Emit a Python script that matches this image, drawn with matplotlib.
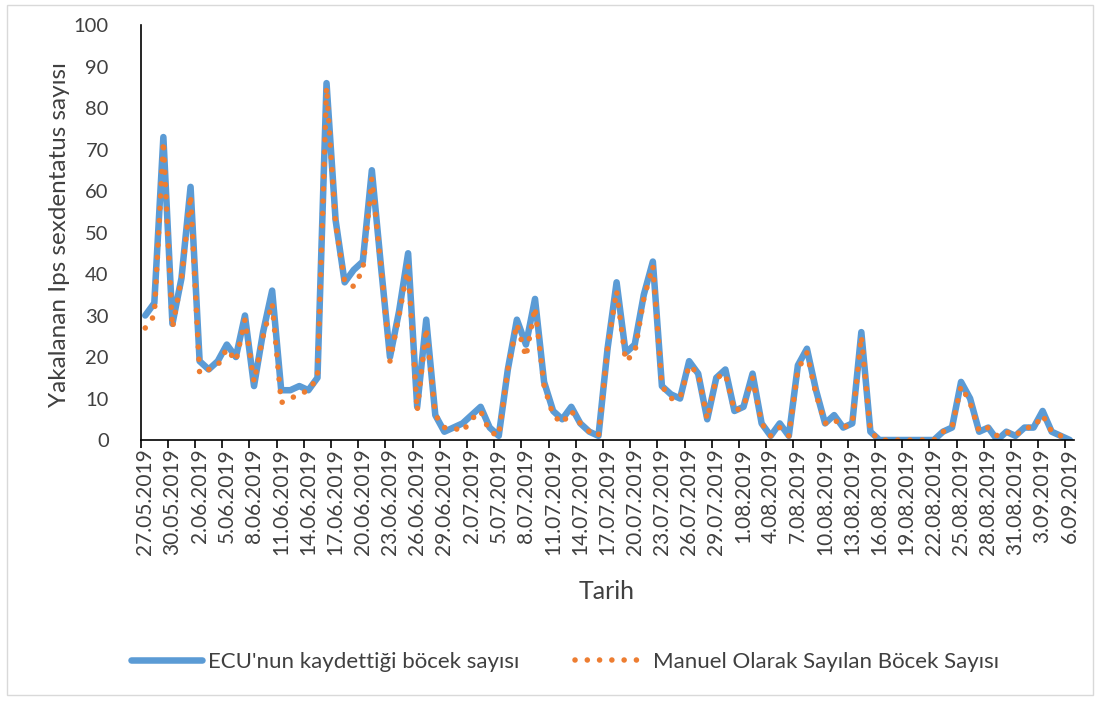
import numpy as np
import pandas as pd
import matplotlib
matplotlib.use("Agg")
import matplotlib.pyplot as plt
from matplotlib.patches import Rectangle

plt.rcParams['font.family'] = ['Lato', 'DejaVu Sans']

# günlük veriler 27.05.2019 - 6.09.2019
dates = pd.date_range("2019-05-27", "2019-09-06", freq="D")
ecu = [30, 33, 73, 28, 39, 61, 19, 17, 19, 23, 20, 30, 13, 26, 36, 12, 12, 13, 12, 15,
       86, 53, 38, 41, 43, 65, 42, 20, 31, 45, 8, 29, 6, 2, 3, 4, 6, 8, 3, 1,
       17, 29, 23, 34, 14, 7, 5, 8, 4, 2, 1, 22, 38, 21, 23, 35, 43, 13, 11, 10,
       19, 16, 5, 15, 17, 7, 8, 16, 4, 1, 4, 1, 18, 22, 12, 4, 6, 3, 4, 26,
       2, 0, 0, 0, 0, 0, 0, 0, 2, 3, 14, 10, 2, 3, 0, 2, 1, 3, 3, 7,
       2, 1, 0]
manuel = [27, 30, 72, 27, 39, 59, 16, 17, 18, 22, 19, 29, 14, 25, 33, 9, 10, 11, 12, 15,
          85, 52, 38, 37, 41, 63, 42, 19, 30, 42, 7, 27, 6, 3, 3, 2, 5, 7, 2, 1,
          17, 28, 20, 32, 13, 6, 4, 7, 4, 2, 1, 22, 36, 19, 21, 34, 42, 13, 10, 10,
          18, 16, 5, 15, 16, 7, 8, 15, 4, 1, 3, 1, 17, 21, 11, 4, 5, 3, 4, 25,
          2, 0, 0, 0, 0, 0, 0, 0, 2, 3, 13, 9, 2, 3, 1, 2, 1, 3, 3, 6,
          2, 1, 0]
labels = [f"{d.day}.{d.month:02d}.{d.year}" for d in dates]

txt = '#404040'
fig = plt.figure(figsize=(11.01, 7.01), dpi=100)
ax = fig.add_axes([0.1278, 0.3723, 0.8480, 0.5920])

x = np.arange(len(dates))
ax.plot(x, ecu, color='#5B9BD5', lw=4.7, solid_joinstyle='round', solid_capstyle='round',
        label="ECU'nun kaydettiği böcek sayısı")
ax.plot(x, manuel, color='#ED7D31', lw=4.0, linestyle=(0, (0.01, 2.2)),
        dash_capstyle='round', label="Manuel Olarak Sayılan Böcek Sayısı")

ax.set_xlim(-0.5, len(dates) - 0.5)
ax.set_ylim(0, 100)
ax.set_yticks(range(0, 101, 10))
ax.tick_params(axis='y', length=0, labelsize=14.5, pad=23, colors=txt)

ax.set_xticks(np.arange(-0.5, len(dates) - 1, 3))
ax.set_xticklabels([])
ax.set_xticks(x[::3], minor=True)
ax.set_xticklabels(labels[::3], minor=True, rotation=90)
ax.tick_params(axis='x', which='major', length=6, width=1.2, color='black')
ax.tick_params(axis='x', which='minor', length=0, labelsize=15, pad=6, colors=txt)

for s in ['top', 'right']:
    ax.spines[s].set_visible(False)
for s in ['left', 'bottom']:
    ax.spines[s].set_color('black')
    ax.spines[s].set_linewidth(1.2)

fig.text(60 / 1101, 1 - 235 / 701, "Yakalanan Ips sexdentatus sayısı", fontsize=17.5,
         color=txt, rotation=90, ha='center', va='center')
fig.text(0.551, 0.1555, "Tarih", fontsize=18, color=txt, ha='center', va='center')

fig.legend(loc='center', bbox_to_anchor=(0.513, 0.056), ncol=2, frameon=False,
           fontsize=16, handlelength=3.2, columnspacing=2.5, handletextpad=0.3,
           labelcolor=txt)

fig.patches.append(Rectangle((0.006, 0.008), 0.987, 0.985, transform=fig.transFigure,
                             fill=False, edgecolor='#D9D9D9', lw=1))

fig.savefig("out.png", dpi=100)
